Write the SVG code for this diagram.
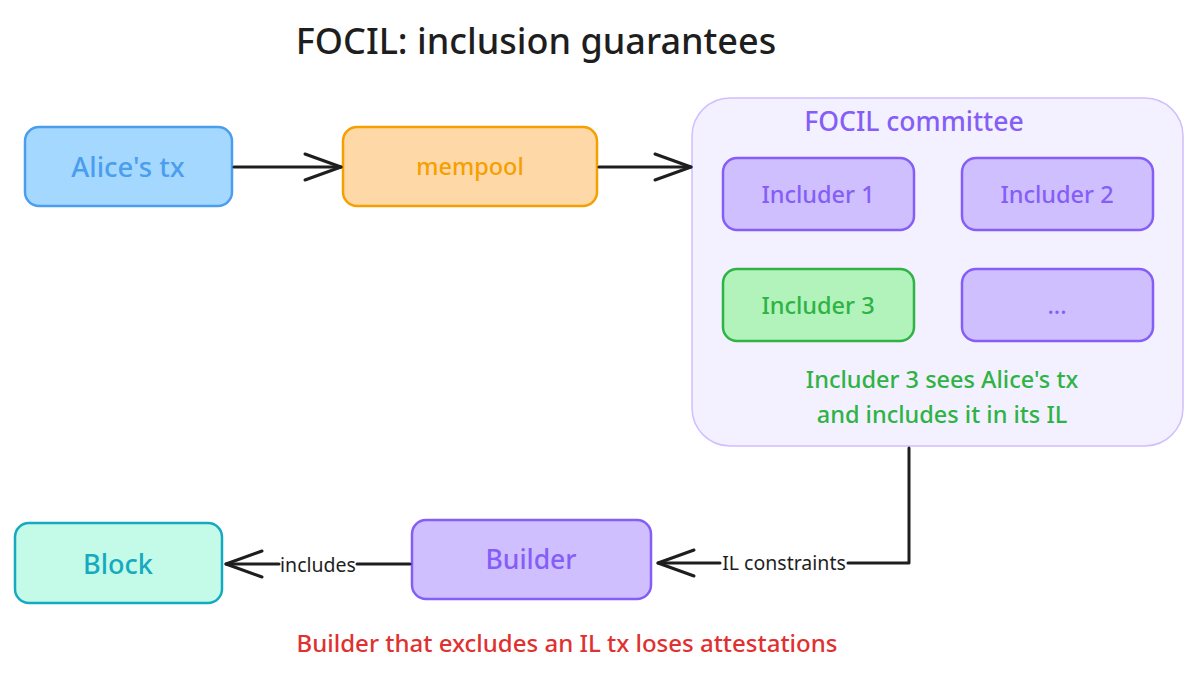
<svg xmlns="http://www.w3.org/2000/svg" width="1200" height="675" viewBox="0 0 1200 675">
<style>
text{font-family:"Noto Sans",Lato,sans-serif;font-weight:500;text-anchor:middle;dominant-baseline:central}
.box{stroke-width:2.5}
.purple{fill:#d0bfff;stroke:#845ef7}
.ptxt{fill:#845ef7;font-size:23.5px}
.gtxt{fill:#2fb344;font-size:23.5px}
.conn{fill:none;stroke:#1e1e1e;stroke-width:3;stroke-linecap:round;stroke-linejoin:round}
.lbl{fill:#1e1e1e;font-size:19.5px;font-weight:400}
</style>
<defs>
<marker id="arr" markerUnits="userSpaceOnUse" viewBox="-40 -20 44 40" refX="0" refY="0" markerWidth="44" markerHeight="40" orient="auto">
<path d="M-36,-13 L0,0 L-36,13" fill="none" stroke="#1e1e1e" stroke-width="3" stroke-linecap="round" stroke-linejoin="round"/>
</marker>
</defs>
<rect width="1200" height="675" fill="#ffffff"/>
<text id="title" x="536" y="40" font-size="36" fill="#1e1e1e">FOCIL: inclusion guarantees</text>

<g id="committee">
<rect x="692" y="98" width="491" height="348" rx="38" fill="#f3f0ff" stroke="#d0bfff" stroke-width="1.5"/>
<text x="914" y="121" font-size="26.5" fill="#845ef7">FOCIL committee</text>
</g>
<g id="includer1">
<rect class="box purple" x="723" y="158" width="191" height="72" rx="14"/>
<text class="ptxt" x="818" y="194">Includer 1</text>
</g>
<g id="includer2">
<rect class="box purple" x="962" y="158" width="191" height="72" rx="14"/>
<text class="ptxt" x="1057" y="194">Includer 2</text>
</g>
<g id="includer3">
<rect class="box" x="723" y="269" width="191" height="72" rx="14" fill="#b2f2bb" stroke="#2fb344"/>
<text class="gtxt" x="818" y="305">Includer 3</text>
</g>
<g id="includerMore">
<rect class="box purple" x="962" y="269" width="191" height="72" rx="14"/>
<text class="ptxt" x="1057" y="305">...</text>
</g>
<g id="note">
<text class="gtxt" x="942" y="379">Includer 3 sees Alice's tx</text>
<text class="gtxt" x="942" y="414">and includes it in its IL</text>
</g>

<g id="alice">
<rect class="box" x="25" y="127" width="207" height="79" rx="14" fill="#a5d8ff" stroke="#4a9eed"/>
<text x="128" y="166" font-size="27.5" fill="#4a9eed">Alice's tx</text>
</g>
<g id="mempool">
<rect class="box" x="343" y="127" width="254" height="79" rx="14" fill="#ffd8a8" stroke="#f59f00"/>
<text x="470" y="166" font-size="23.5" fill="#f59f00">mempool</text>
</g>
<g id="builder">
<rect class="box purple" x="412" y="520" width="239" height="79" rx="14"/>
<text x="531" y="559" font-size="26.5" fill="#845ef7">Builder</text>
</g>
<g id="block">
<rect class="box" x="15" y="523" width="207" height="80" rx="14" fill="#c3fae8" stroke="#15aabf"/>
<text x="118" y="563" font-size="27" fill="#15aabf">Block</text>
</g>

<g id="connectors">
<path class="conn" d="M234,167 L341,167" marker-end="url(#arr)"/>
<path class="conn" d="M599,167 L691,167" marker-end="url(#arr)"/>
<path class="conn" d="M909,448 L909,563 L848,563"/>
<path class="conn" d="M720,563 L658,563" marker-end="url(#arr)"/>
<path class="conn" d="M410,564 L357,564"/>
<path class="conn" d="M279,564 L226,564" marker-end="url(#arr)"/>
<text class="lbl" x="784" y="562">IL constraints</text>
<text class="lbl" x="318" y="564">includes</text>
</g>

<text id="warning" x="567" y="642" font-size="24" fill="#e03131">Builder that excludes an IL tx loses attestations</text>
</svg>
